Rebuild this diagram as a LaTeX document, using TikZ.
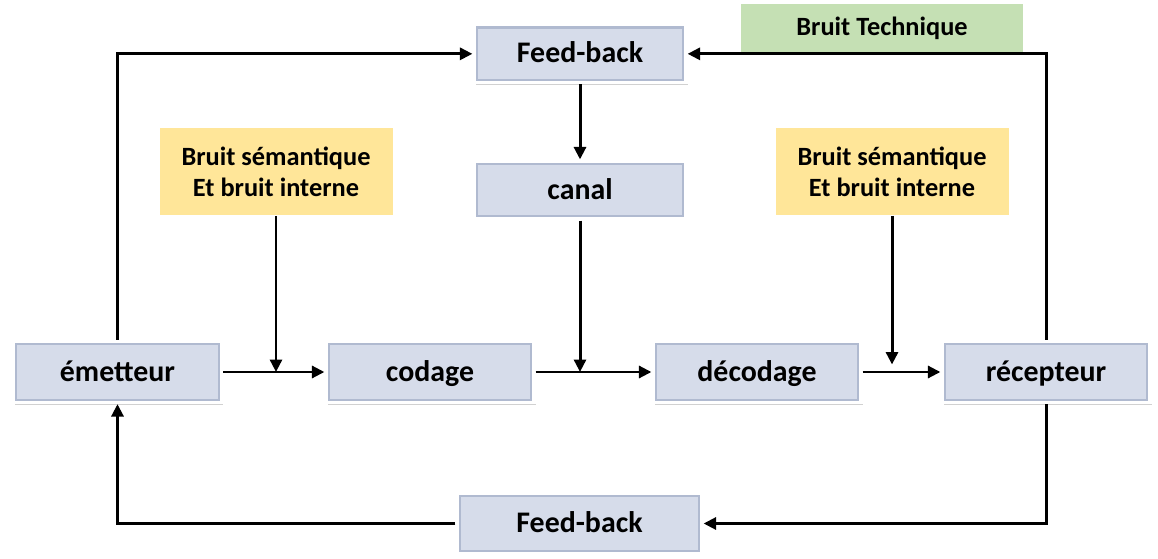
\documentclass[tikz,border=0pt]{standalone}
\usepackage{fontspec}
\setmainfont{Carlito}
\usetikzlibrary{arrows.meta,positioning,shadows}
\definecolor{boxblue}{HTML}{D6DCEA}
\definecolor{boxedge}{HTML}{B0BAD0}
\definecolor{noiseyellow}{HTML}{FFE699}
\definecolor{noisegreen}{HTML}{C5E0B4}
\tikzset{
  box/.style={rectangle, draw=white, line width=1.8pt, fill=boxblue, minimum width=4.16cm, minimum height=1.22cm, align=center, text height=2.65ex, text depth=0.5ex, font=\fontsize{17}{20}\selectfont\bfseries,
    path picture={\draw[boxedge, line width=4.5pt] (path picture bounding box.south west) rectangle (path picture bounding box.north east);},
    drop shadow={shadow xshift=0.3mm, shadow yshift=-0.4mm, fill=black!40, opacity=0.45}},
  thinbox/.style={box, minimum width=4.24cm, minimum height=1.16cm},
  noise/.style={rectangle, fill=noiseyellow, minimum width=4.66cm, minimum height=1.74cm, align=center, font=\fontsize{15}{17.6}\selectfont\bfseries},
  tech/.style={noise, fill=noisegreen, minimum width=5.64cm, minimum height=0.96cm},
  arr/.style={-{Triangle[length=2.5mm,width=2.4mm]}, line width=1.7pt}
}
\begin{document}
\begin{tikzpicture}
\useasboundingbox (0,0) rectangle (23.16,-11.18);
% main chain
\node[box] (emet) at (2.35,-7.44) {émetteur};
\node[box] (cod) at (8.6,-7.44) {codage};
\node[box] (dec) at (15.14,-7.44) {décodage};
\node[box] (rec) at (20.92,-7.44) {récepteur};

\node[thinbox] (canal) at (11.6,-3.8) {canal};
\node[thinbox, above=1.5cm of canal] (fbtop) {Feed-back};
\node[box, minimum width=4.9cm] (fbbot) at (11.59,-10.47) {Feed-back};

% noise
\node[noise] (semL) at (5.52,-3.44) {Bruit sémantique\\Et bruit interne};
\node[noise] (semR) at (17.84,-3.44) {Bruit sémantique\\Et bruit interne};
\node[tech] (tech) at (17.64,-0.56) {Bruit Technique};

\coordinate (jL) at (semL |- emet);
\coordinate (jC) at (canal |- cod);
\coordinate (jR) at ([yshift=1.5mm]semR |- dec);

\draw[arr] (emet) -- (cod);
\draw[arr] (cod) -- (dec);
\draw[arr] (dec) -- (rec);
\draw[arr] (semL) -- (jL);
\draw[arr] (canal) -- (jC);
\draw[arr] (semR) -- (jR);
\draw[arr] (fbtop) -- (canal);
\draw[arr] (emet.north) |- (fbtop.west);
\draw[arr] (rec.north) |- (fbtop.east);
\draw[arr] (rec.south) |- (fbbot.east);
\draw[arr] (fbbot.west) -| (emet.south);
\end{tikzpicture}
\end{document}
